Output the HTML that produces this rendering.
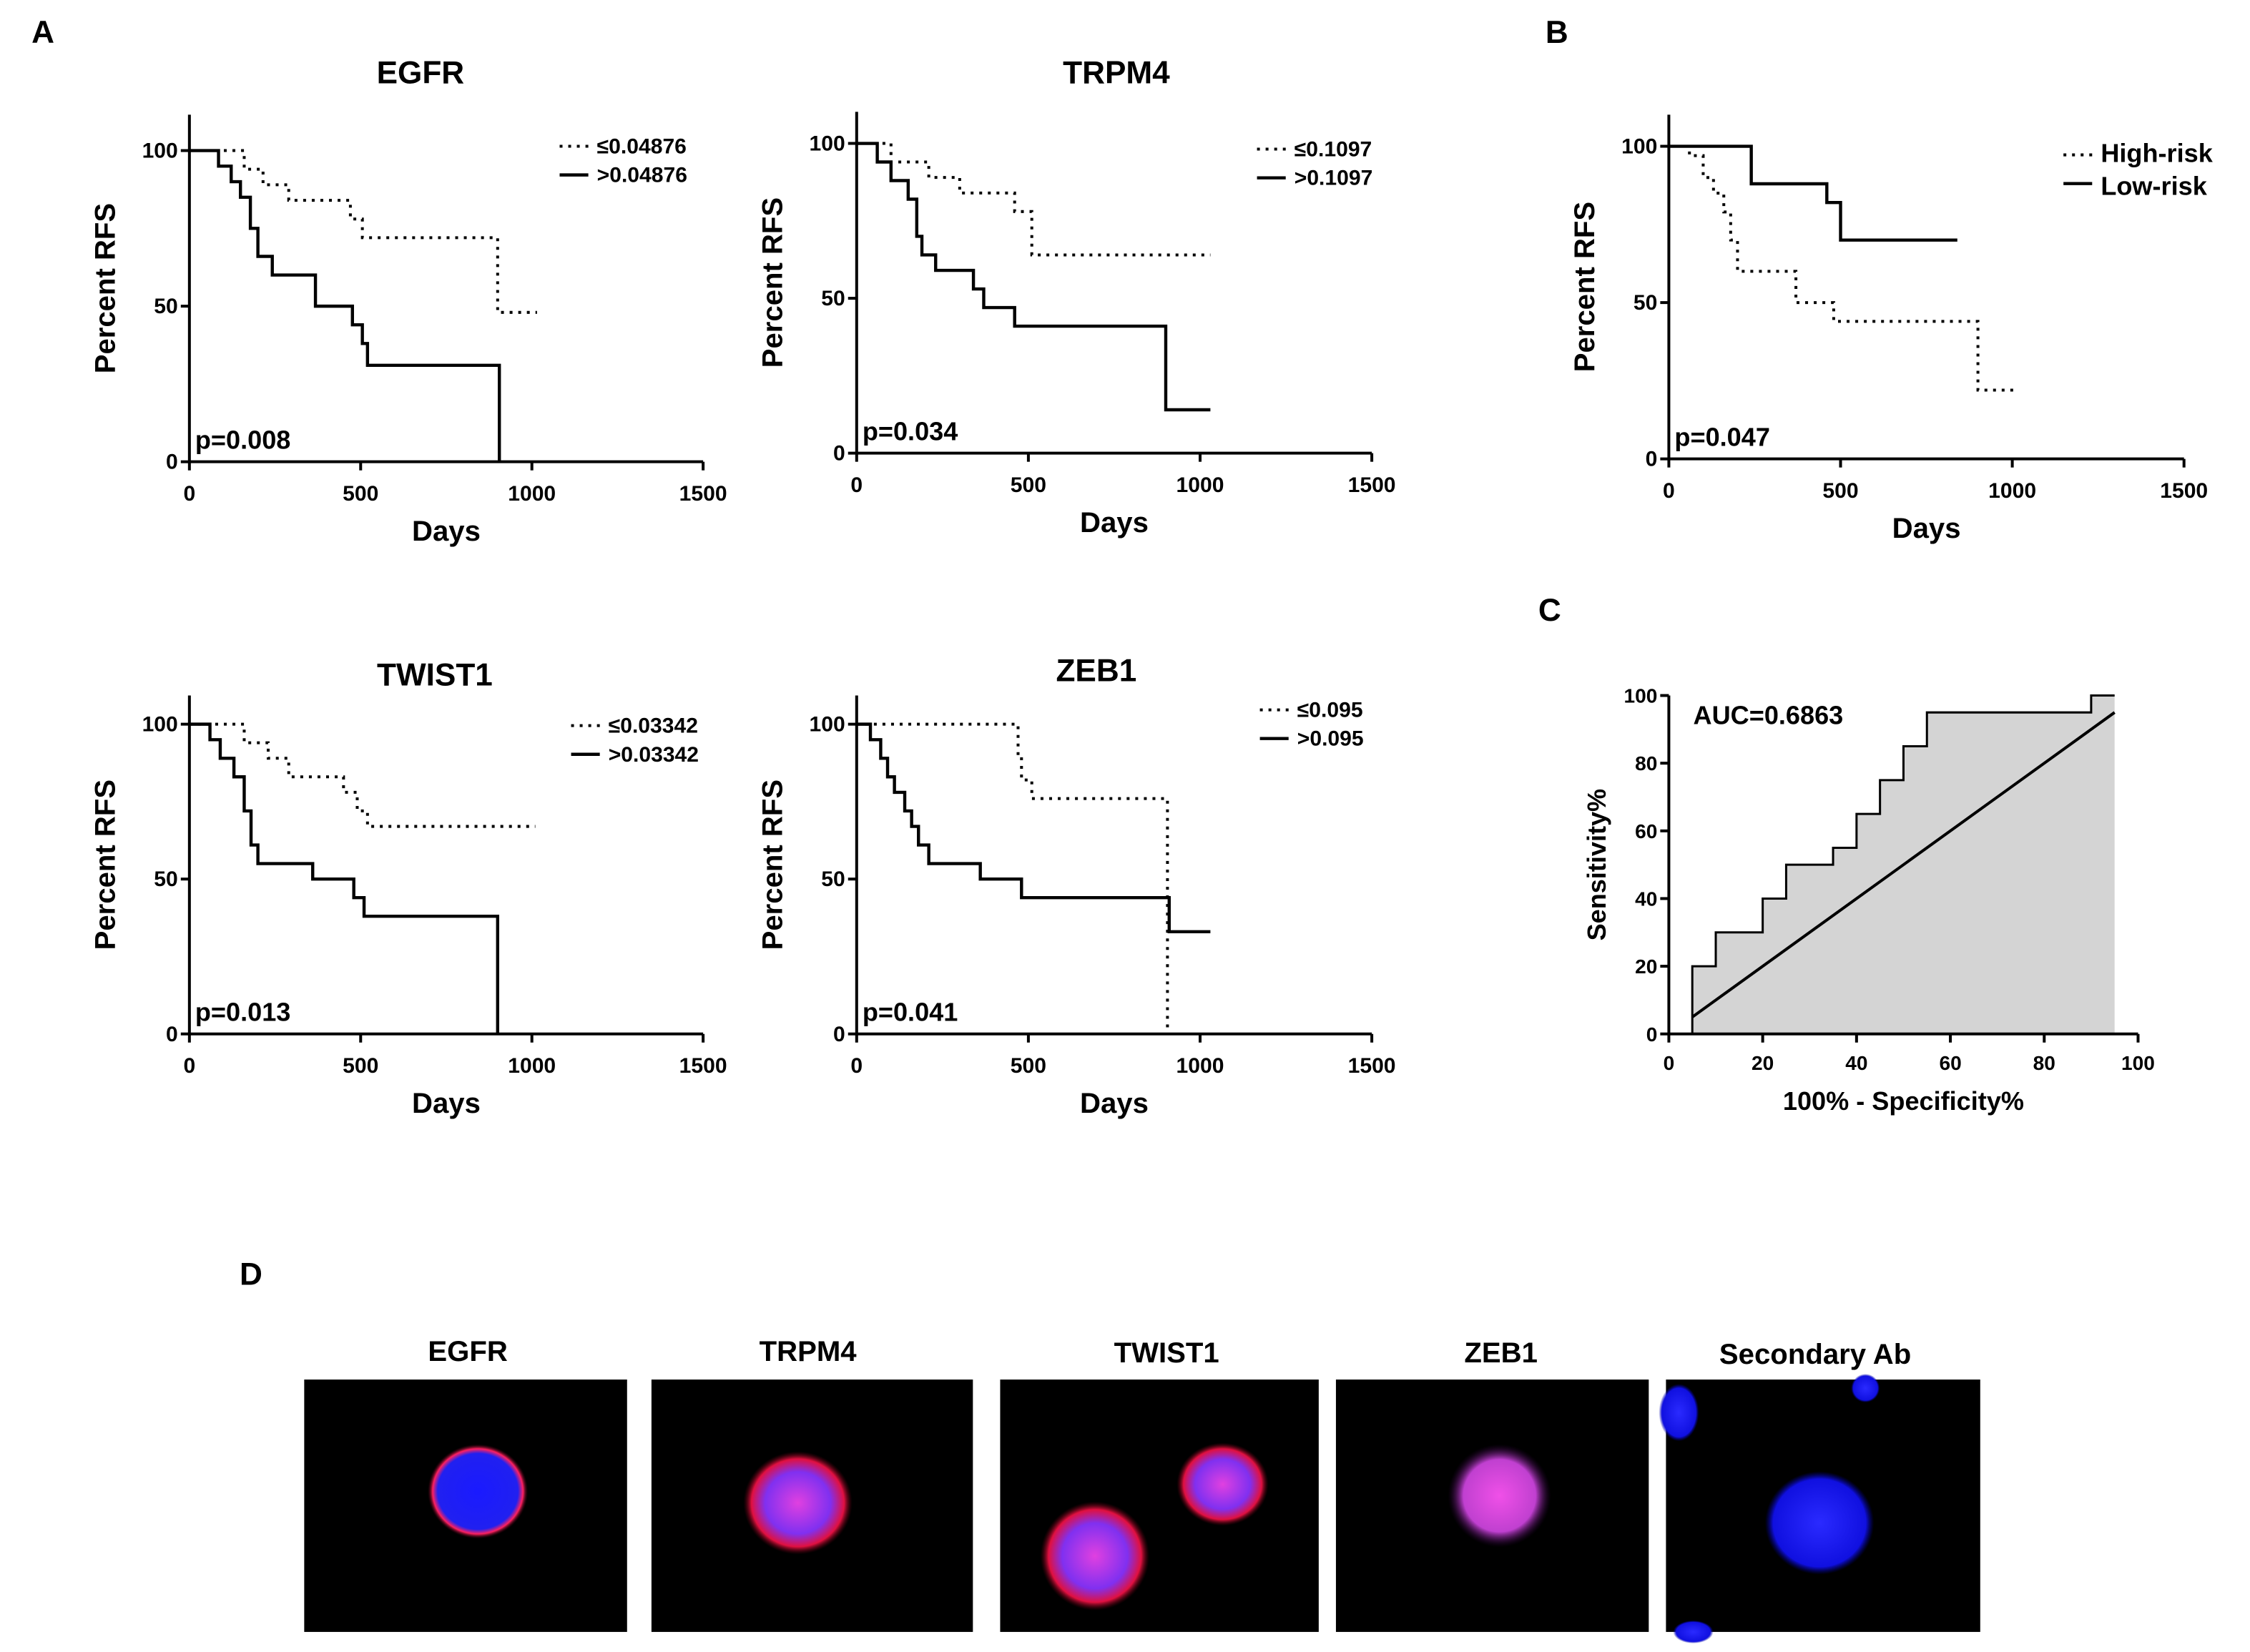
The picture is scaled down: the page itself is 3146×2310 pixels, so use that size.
<!DOCTYPE html>
<html><head><meta charset="utf-8"><style>
html,body{margin:0;padding:0;background:#fff;}
svg{display:block;}
text{font-family:"Liberation Sans",Arial,sans-serif;font-weight:bold;fill:#000;}
</style></head><body>
<svg id="fig" width="3146" height="2310" viewBox="0 0 1568 1152" preserveAspectRatio="none" xmlns="http://www.w3.org/2000/svg">
<defs>
<radialGradient id="gBlue"><stop offset="0" stop-color="#2a2aff"/><stop offset="0.85" stop-color="#1010e0"/><stop offset="1" stop-color="#0000a0" stop-opacity="0"/></radialGradient>
<radialGradient id="gPink"><stop offset="0" stop-color="#e040e0"/><stop offset="0.6" stop-color="#8030f0"/><stop offset="0.85" stop-color="#e01040"/><stop offset="1" stop-color="#600010" stop-opacity="0"/></radialGradient>
<radialGradient id="gMag"><stop offset="0" stop-color="#f050e8"/><stop offset="0.7" stop-color="#c040d0"/><stop offset="1" stop-color="#300040" stop-opacity="0"/></radialGradient>
<radialGradient id="gRing"><stop offset="0" stop-color="#1a1aff"/><stop offset="0.8" stop-color="#2020f0"/><stop offset="0.9" stop-color="#ff2060"/><stop offset="1" stop-color="#400010" stop-opacity="0"/></radialGradient>
</defs>
<g id="charts"></g>
<g id="micro">
<text x="22" y="30" font-size="22">A</text>
<text x="1077" y="30" font-size="22">B</text>
<text x="1072" y="433" font-size="22">C</text>
<text x="167" y="896" font-size="22">D</text>
<text x="326" y="949" font-size="20" text-anchor="middle">EGFR</text>
<text x="563" y="949" font-size="20" text-anchor="middle">TRPM4</text>
<text x="813" y="950" font-size="20" text-anchor="middle">TWIST1</text>
<text x="1046" y="950" font-size="20" text-anchor="middle">ZEB1</text>
<text x="1265" y="951" font-size="20" text-anchor="middle">Secondary Ab</text>
<g><rect x="212" y="962" width="225" height="176" fill="#000"/><ellipse cx="333" cy="1040" rx="35" ry="33" fill="url(#gRing)"/></g>
<g><rect x="454" y="962" width="224" height="176" fill="#000"/><ellipse cx="556" cy="1048" rx="38" ry="36" fill="url(#gPink)"/></g>
<g><rect x="697" y="962" width="222" height="176" fill="#000"/><ellipse cx="852" cy="1035" rx="32" ry="29" fill="url(#gPink)"/><ellipse cx="763" cy="1085" rx="38" ry="38" fill="url(#gPink)"/></g>
<g><rect x="931" y="962" width="218" height="176" fill="#000"/><ellipse cx="1045" cy="1043" rx="36" ry="36" fill="url(#gMag)"/></g>
<g><rect x="1161" y="962" width="219" height="176" fill="#000"/><ellipse cx="1268" cy="1062" rx="38" ry="36" fill="url(#gBlue)"/><ellipse cx="1170" cy="985" rx="14" ry="20" fill="url(#gBlue)"/><ellipse cx="1300" cy="968" rx="10" ry="10" fill="url(#gBlue)"/><ellipse cx="1180" cy="1138" rx="14" ry="8" fill="url(#gBlue)"/></g>
</g>
</svg>
<script>
// ---- data ----
const egfrLowT=[160,215,290,470,505,900]; const egfrLowV=[94,89,84,78,72,48]; const egfrLowEnd=1015;
const egfrHighT=[85,122,149,178,200,242,368,476,505,520,905]; const egfrHighV=[95,90,85,75,66,60,50,44,38,31,0]; const egfrHighEnd=905;
const trpmLowT=[100,210,300,460,510]; const trpmLowV=[94,89,84,78,64]; const trpmLowEnd=1030;
const trpmHighT=[60,100,150,175,190,230,340,370,460,900]; const trpmHighV=[94,88,82,70,64,59,53,47,41,14]; const trpmHighEnd=1030;
const twistLowT=[160,230,290,450,490,520]; const twistLowV=[94,89,83,78,72,67]; const twistLowEnd=1010;
const twistHighT=[60,90,130,160,180,200,360,480,510,900]; const twistHighV=[95,89,83,72,61,55,50,44,38,0]; const twistHighEnd=900;
const zebLowT=[470,480,510,905]; const zebLowV=[90,82,76,0]; const zebLowEnd=905;
const zebHighT=[40,70,90,110,140,160,180,210,360,480,910]; const zebHighV=[95,89,83,78,72,67,61,55,50,44,33]; const zebHighEnd=1030;
const riskHighT=[60,100,130,160,180,200,370,480,900]; const riskHighV=[97,90,85,79,70,60,50,44,22]; const riskHighEnd=1010;
const riskLowT=[240,460,500]; const riskLowV=[88,82,70]; const riskLowEnd=840;
const rocX=[5,5,10,10,20,20,25,25,35,35,40,40,45,45,50,50,55,55,90,90,95,95];
const rocY=[0,20,20,30,30,40,40,50,50,55,55,65,65,75,75,85,85,95,95,100,100,0];
const diagX=[5,95]; const diagY=[5,95];
const kmXTicks=[0,500,1000,1500]; const kmYTicks=[0,50,100];
const rocTicks=[0,20,40,60,80,100];

const NS='http://www.w3.org/2000/svg';
const root=document.getElementById('charts');
function el(tag,attrs,parent,txt){const e=document.createElementNS(NS,tag);for(const k in attrs)e.setAttribute(k,attrs[k]);if(txt!==undefined)e.textContent=txt;(parent||root).appendChild(e);return e;}

function kmPath(sx,sy,T,V,end){let d='M'+sx(0)+','+sy(100);let cur=100;for(let i=0;i<T.length;i++){d+=' H'+sx(T[i])+' V'+sy(V[i]);cur=V[i];}d+=' H'+sx(end);return d;}

function km(o){
  const g=el('g',{});
  
  
  const sx=v=>o.x0+(o.x1-o.x0)*v/1500, sy=v=>o.y0-(o.y0-o.y100)*v/100;
  el('line',{x1:o.x0,y1:o.top,x2:o.x0,y2:o.y0,stroke:'#000','stroke-width':2},g);
  el('line',{x1:o.x0,y1:o.y0,x2:o.x1,y2:o.y0,stroke:'#000','stroke-width':2},g);
  kmXTicks.forEach(t=>{el('line',{x1:sx(t),y1:o.y0,x2:sx(t),y2:o.y0+6,stroke:'#000','stroke-width':2},g);
    const tx=el('text',{x:sx(t),y:o.y0+27,'font-size':15,'text-anchor':'middle'},g,String(t));
    });
  kmYTicks.forEach(t=>{el('line',{x1:o.x0-6,y1:sy(t),x2:o.x0,y2:sy(t),stroke:'#000','stroke-width':2},g);
    const tx=el('text',{x:o.x0-8,y:sy(t)+5,'font-size':15,'text-anchor':'end'},g,String(t));
    });
  const d=el('path',{d:kmPath(sx,sy,o.dT,o.dV,o.dEnd),fill:'none',stroke:'#000','stroke-width':2,'stroke-dasharray':'2,4'},g);
  
  const s=el('path',{d:kmPath(sx,sy,o.sT,o.sV,o.sEnd),fill:'none',stroke:'#000','stroke-width':2.2},g);
  
  if(o.title){const t=el('text',{x:o.tx,y:o.ty,'font-size':22,'text-anchor':'middle'},g,o.title);}
  const xl=el('text',{x:(o.x0+o.x1)/2,y:o.y0+55,'font-size':20,'text-anchor':'middle'},g,'Days');
  
  const cy=(o.top+o.y0)/2;
  const yl=el('text',{x:o.x0-52,y:cy,'font-size':20,'text-anchor':'middle',transform:'rotate(-90 '+(o.x0-52)+' '+cy+')'},g,'Percent RFS');
  
  const p=el('text',{x:o.x0+4,y:o.y0-9,'font-size':18},g,o.p);
  
  const lg=el('g',{},g);
  el('line',{x1:o.lx,y1:o.ly-5,x2:o.lx+20,y2:o.ly-5,stroke:'#000','stroke-width':2,'stroke-dasharray':'2,4'},lg);
  el('text',{x:o.lx+26,y:o.ly,'font-size':o.lfs||15},lg,o.l1);
  el('line',{x1:o.lx,y1:o.ly+15,x2:o.lx+20,y2:o.ly+15,stroke:'#000','stroke-width':2.2},lg);
  el('text',{x:o.lx+26,y:o.ly+20+(o.lgap||0),'font-size':o.lfs||15},lg,o.l2);
}
km({name:'km-egfr',x0:132,x1:490,y0:322,y100:105,top:80,title:'EGFR',tx:293,ty:58,p:'p=0.008',lx:390,ly:107,l1:'≤0.04876',l2:'>0.04876',dT:egfrLowT,dV:egfrLowV,dEnd:egfrLowEnd,sT:egfrHighT,sV:egfrHighV,sEnd:egfrHighEnd});
km({name:'km-trpm4',x0:597,x1:956,y0:316,y100:100,top:78,title:'TRPM4',tx:778,ty:58,p:'p=0.034',lx:876,ly:109,l1:'≤0.1097',l2:'>0.1097',dT:trpmLowT,dV:trpmLowV,dEnd:trpmLowEnd,sT:trpmHighT,sV:trpmHighV,sEnd:trpmHighEnd});
km({name:'km-twist1',x0:132,x1:490,y0:721,y100:505,top:485,title:'TWIST1',tx:303,ty:478,p:'p=0.013',lx:398,ly:511,l1:'≤0.03342',l2:'>0.03342',dT:twistLowT,dV:twistLowV,dEnd:twistLowEnd,sT:twistHighT,sV:twistHighV,sEnd:twistHighEnd});
km({name:'km-zeb1',x0:597,x1:956,y0:721,y100:505,top:485,title:'ZEB1',tx:764,ty:475,p:'p=0.041',lx:878,ly:500,l1:'≤0.095',l2:'>0.095',dT:zebLowT,dV:zebLowV,dEnd:zebLowEnd,sT:zebHighT,sV:zebHighV,sEnd:zebHighEnd});
km({name:'km-risk',x0:1163,x1:1522,y0:320,y100:102,top:80,title:null,p:'p=0.047',lx:1438,ly:113,lfs:18,lgap:3,l1:'High-risk',l2:'Low-risk',dT:riskHighT,dV:riskHighV,dEnd:riskHighEnd,sT:riskLowT,sV:riskLowV,sEnd:riskLowEnd});

// ROC
(function(){
  const g=el('g',{});
  
  
  const x0=1163,x1=1490,y0=721,y1=485;
  const sx=v=>x0+(x1-x0)*v/100, sy=v=>y0-(y0-y1)*v/100;
  let d='';rocX.forEach((v,i)=>{d+=(i?' L':'M')+sx(v)+','+sy(rocY[i]);});
  const a=el('path',{d:d+' Z',fill:'#d4d4d4',stroke:'none'},g);
  
  let d2='';for(let i=0;i<rocX.length-1;i++){d2+=(i?' L':'M')+sx(rocX[i])+','+sy(rocY[i]);}
  const c=el('path',{d:d2,fill:'none',stroke:'#000','stroke-width':1.5},g);
  
  const l=el('line',{x1:sx(diagX[0]),y1:sy(diagY[0]),x2:sx(diagX[1]),y2:sy(diagY[1]),stroke:'#000','stroke-width':2},g);
  
  el('line',{x1:x0,y1:y1,x2:x0,y2:y0,stroke:'#000','stroke-width':2},g);
  el('line',{x1:x0,y1:y0,x2:x1,y2:y0,stroke:'#000','stroke-width':2},g);
  rocTicks.forEach(t=>{
    el('line',{x1:sx(t),y1:y0,x2:sx(t),y2:y0+6,stroke:'#000','stroke-width':2},g);
    const tx=el('text',{x:sx(t),y:y0+25,'font-size':14,'text-anchor':'middle'},g,String(t));
    
    el('line',{x1:x0-6,y1:sy(t),x2:x0,y2:sy(t),stroke:'#000','stroke-width':2},g);
    const ty=el('text',{x:x0-8,y:sy(t)+5,'font-size':14,'text-anchor':'end'},g,String(t));
    
  });
  const xt=el('text',{x:(x0+x1)/2,y:y0+53,'font-size':18,'text-anchor':'middle'},g,'100% - Specificity%');
  
  const yt=el('text',{x:1119,y:603,'font-size':18,'text-anchor':'middle',transform:'rotate(-90 1119 603)'},g,'Sensitivity%');
  
  const au=el('text',{x:1180,y:505,'font-size':18},g,'AUC=0.6863');
  
})();
</script>
</body></html>
